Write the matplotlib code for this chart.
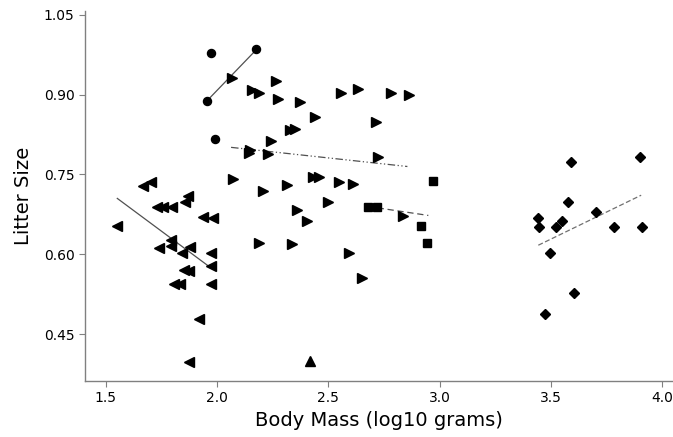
import numpy as np
import matplotlib
matplotlib.use('Agg')
from matplotlib import pyplot as plt

# left-pointing triangles
left_x = [1.704, 1.668, 1.870, 1.856, 1.730, 1.757, 1.798, 1.937, 1.982, 1.551,
          1.793, 1.793, 1.739, 1.879, 1.843, 1.973, 1.973, 1.852, 1.874, 1.807,
          1.834, 1.973, 1.919, 1.874]
left_y = [0.736, 0.728, 0.710, 0.698, 0.689, 0.689, 0.689, 0.670, 0.668, 0.653,
          0.627, 0.616, 0.612, 0.614, 0.602, 0.602, 0.578, 0.570, 0.568, 0.544,
          0.544, 0.544, 0.478, 0.397]
left_fit_x = [1.552, 1.961]
left_fit_y = [0.705, 0.578]

# circles
circ_x = [1.972, 2.175, 1.956, 1.991]
circ_y = [0.978, 0.986, 0.889, 0.817]
circ_fit_x = [1.956, 2.175]
circ_fit_y = [0.889, 0.984]

# right-pointing triangles
right_x = [2.066, 2.265, 2.156, 2.189, 2.273, 2.373, 2.440, 2.328, 2.350, 2.243,
           2.148, 2.145, 2.230, 2.072, 2.431, 2.458, 2.548, 2.612, 2.500, 2.358,
           2.403, 2.208, 2.316, 2.190, 2.336, 2.594, 2.556, 2.635, 2.780, 2.864,
           2.714, 2.725, 2.834, 2.653]
right_y = [0.932, 0.926, 0.909, 0.904, 0.891, 0.887, 0.858, 0.834, 0.836, 0.813,
           0.796, 0.791, 0.788, 0.742, 0.746, 0.746, 0.736, 0.732, 0.699, 0.683,
           0.663, 0.719, 0.730, 0.622, 0.619, 0.602, 0.903, 0.910, 0.903, 0.900,
           0.848, 0.782, 0.672, 0.555]
right_fit_x = [2.063, 2.855]
right_fit_y = [0.801, 0.765]

# squares
sq_x = [2.969, 2.677, 2.717, 2.915, 2.945]
sq_y = [0.738, 0.689, 0.689, 0.653, 0.622]
sq_fit_x = [2.677, 2.949]
sq_fit_y = [0.690, 0.673]

# single up triangle
up_x = [2.418]
up_y = [0.399]

# diamonds
dia_x = [3.589, 3.900, 3.578, 3.703, 3.443, 3.448, 3.523, 3.549, 3.783, 3.908,
         3.496, 3.605, 3.474]
dia_y = [0.773, 0.782, 0.699, 0.680, 0.669, 0.651, 0.652, 0.663, 0.652, 0.652,
         0.602, 0.527, 0.488]
dia_fit_x = [3.443, 3.905]
dia_fit_y = [0.617, 0.711]

xticks = [1.5, 2.0, 2.5, 3.0, 3.5, 4.0]
yticks = [0.45, 0.60, 0.75, 0.90, 1.05]

fig = plt.figure(figsize=(6.73, 4.37), dpi=100)
ax = fig.add_axes([0.126, 0.128, 0.874, 0.847])

lc = '#505050'
ax.plot(left_fit_x, left_fit_y, '-', color=lc, lw=0.9)
ax.plot(circ_fit_x, circ_fit_y, '-', color=lc, lw=0.9)
ax.plot(right_fit_x, right_fit_y, color=lc, lw=0.9, dashes=[6, 2, 1, 2, 1, 2])
ax.plot(sq_fit_x, sq_fit_y, color=lc, lw=0.9, dashes=[5, 3])
ax.plot(dia_fit_x, dia_fit_y, color='#707070', lw=0.9, dashes=[4, 2])

ax.plot(left_x, left_y, '<', color='k', ms=6.5, ls='none')
ax.plot(circ_x, circ_y, 'o', color='k', ms=5.8, ls='none')
ax.plot(right_x, right_y, '>', color='k', ms=6.5, ls='none')
ax.plot(sq_x, sq_y, 's', color='k', ms=5.5, ls='none')
ax.plot(up_x, up_y, '^', color='k', ms=6.5, ls='none')
ax.plot(dia_x, dia_y, 'D', color='k', ms=5.3, ls='none')

ax.set_xlim(1.406, 4.048)
ax.set_ylim(0.3616, 1.0575)
ax.set_xticks(xticks)
ax.set_xticklabels(['%.1f' % v for v in xticks])
ax.set_yticks(yticks)
ax.set_yticklabels(['%.2f' % v for v in yticks])

for s in ['top', 'right']:
    ax.spines[s].set_visible(False)
for s in ['left', 'bottom']:
    ax.spines[s].set_color('#808080')
    ax.spines[s].set_linewidth(1)
ax.tick_params(direction='out', length=4, color='#808080', labelsize=10, labelcolor='black')

ax.set_xlabel('Body Mass (log10 grams)', fontsize=14, labelpad=4)
ax.set_ylabel('Litter Size', fontsize=14, labelpad=8)

fig.savefig('out.png', dpi=100)
